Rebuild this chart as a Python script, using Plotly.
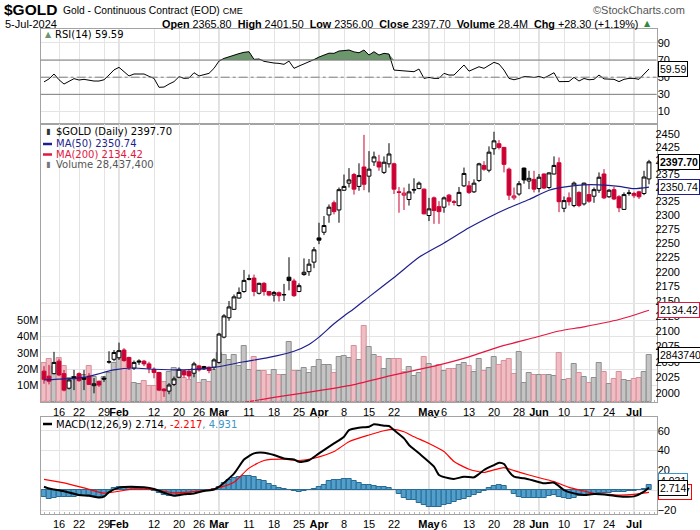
import numpy as np
import pandas as pd
import plotly.graph_objects as go

W, H = 700, 530

# ---------------- categories (trading days) ----------------
holidays = ["2024-01-15", "2024-02-19", "2024-03-29", "2024-05-27", "2024-06-19", "2024-07-04"]
dates = [d.strftime("%Y-%m-%d") for d in pd.bdate_range("2024-01-10", "2024-07-05")
         if d.strftime("%Y-%m-%d") not in holidays]

tick_dates = ["2024-01-16", "2024-01-22", "2024-01-29", "2024-02-01", "2024-02-12", "2024-02-20",
              "2024-02-26", "2024-03-01", "2024-03-11", "2024-03-18", "2024-03-25", "2024-04-01",
              "2024-04-08", "2024-04-15", "2024-04-22", "2024-05-01", "2024-05-06", "2024-05-13",
              "2024-05-20", "2024-05-28", "2024-06-03", "2024-06-10", "2024-06-17", "2024-06-24",
              "2024-07-01"]
tick_text = ["16", "22", "29", "Feb", "12", "20", "26", "Mar", "11", "18", "25", "Apr", "8", "15",
             "22", "May", "6", "13", "20", "28", "Jun", "10", "17", "24", "Jul"]
month_labels = ["Feb", "Mar", "Apr", "May", "Jun", "Jul"]

# ---------------- price data ----------------
open_ = [2035, 2027, 2031, 2051, 2031, 2008, 2026, 2031, 2025, 2027,
         2012, 2019, 2024, 2049.5, 2054, 2056.5, 2069, 2057, 2039.7, 2051.4,
         2051, 2046.6, 2038, 2032.8, 2006.6, 2003.4, 2014, 2025.3, 2035.4, 2034.4,
         2031.7, 2043.4, 2038.6, 2041.3, 2041.3, 2049, 2090, 2122, 2136, 2155,
         2166, 2188, 2189, 2163, 2180, 2166, 2160, 2164, 2161, 2190.5,
         2184, 2166, 2195, 2200, 2216.5, 2259, 2269, 2300, 2322, 2309,
         2345, 2358, 2374, 2352, 2388, 2371, 2397.6, 2397.6, 2378, 2394,
         2394, 2342, 2336, 2328, 2346.5, 2348, 2347, 2299, 2331, 2315,
         2314, 2336, 2324, 2317, 2353, 2353, 2342, 2363, 2391, 2382,
         2422.5, 2432, 2425, 2384, 2331, 2338, 2386, 2362, 2365, 2348,
         2375, 2350, 2375, 2396, 2312, 2331, 2317, 2341, 2320, 2337,
         2334, 2345, 2375, 2333, 2346, 2333, 2310, 2339, 2335, 2342,
         2339, 2365.8]
high = [2043, 2045, 2066, 2055, 2037, 2024, 2037, 2033, 2037, 2032,
        2024, 2020, 2027, 2067, 2069, 2081, 2072, 2058, 2052, 2054,
        2053, 2050, 2041, 2034, 2008, 2016, 2026.4, 2041, 2037, 2037,
        2050, 2045, 2043.4, 2042.4, 2055.7, 2097, 2128, 2150, 2161, 2173,
        2203, 2195, 2195, 2181, 2182, 2167, 2167, 2166, 2179, 2225,
        2188, 2180, 2223, 2222, 2243, 2286, 2298, 2319, 2326, 2350,
        2374, 2386, 2377, 2395, 2449, 2418, 2417, 2411, 2408, 2433,
        2396, 2351, 2350, 2357, 2367, 2361, 2348, 2331, 2333.5, 2325,
        2333.5, 2338, 2327, 2351, 2387, 2362, 2365, 2396, 2399, 2427,
        2455, 2439, 2426, 2387, 2350, 2362, 2387, 2381, 2381, 2375,
        2376, 2378, 2408, 2406, 2333.5, 2341, 2361, 2343, 2359, 2355,
        2350, 2378, 2384, 2347, 2351, 2336, 2341, 2346, 2342, 2344,
        2381, 2401.5]
low = [2015, 2014, 2030, 2027, 2003, 2006, 2005, 2018, 2005, 2013,
       2000, 2010, 2018, 2047, 2051, 2053, 2050, 2037, 2037, 2045,
       2043, 2031.7, 2023.7, 2003.4, 1994.4, 1998.6, 2011.4, 2023.7, 2025, 2022.6,
       2025.3, 2034.4, 2037, 2031.7, 2037, 2047, 2088, 2117, 2135, 2154,
       2164, 2185, 2158, 2161, 2159, 2158, 2149, 2149, 2150, 2168,
       2157, 2165, 2193, 2193, 2206, 2248, 2264, 2286, 2301, 2286,
       2344, 2350, 2337, 2344, 2345, 2341, 2390, 2381, 2375, 2387,
       2338, 2304, 2309, 2317, 2339, 2347, 2301, 2289, 2284, 2284,
       2304, 2317, 2317, 2315, 2351, 2338, 2340, 2360, 2381, 2378,
       2411, 2421, 2378, 2327, 2327, 2335, 2357, 2347, 2341, 2341,
       2347, 2347, 2374, 2305, 2305, 2317, 2314, 2314, 2317, 2322,
       2322, 2340, 2329, 2331, 2327, 2305, 2309, 2335, 2331, 2329,
       2336, 2356]
close = [2022, 2019, 2049, 2029, 2005, 2021, 2023, 2020, 2022, 2014,
         2015, 2013, 2022.5, 2050, 2065, 2068, 2052, 2041, 2049, 2049.8,
         2046.6, 2039.7, 2032.8, 2005, 2004, 2013, 2022.6, 2038, 2029, 2027.4,
         2046.6, 2037, 2042.4, 2036, 2053, 2095, 2125, 2140, 2157, 2164.5,
         2185, 2187, 2166, 2180, 2166, 2160, 2164.5, 2159, 2160.5, 2184.7,
         2159, 2176, 2199, 2213, 2238, 2255, 2281, 2314, 2306, 2346,
         2352, 2364, 2347, 2372, 2356, 2384, 2407, 2388, 2397, 2412.5,
         2347, 2341, 2339.6, 2342, 2345.5, 2358, 2302, 2311, 2308, 2306,
         2331, 2325, 2323, 2341, 2376, 2341, 2358, 2394, 2384, 2416,
         2437.5, 2425, 2393, 2336, 2334.5, 2357, 2364, 2367, 2347, 2369,
         2349, 2377, 2391, 2324, 2326, 2324, 2358, 2317, 2358, 2325,
         2346, 2369, 2331, 2345, 2329, 2313, 2337, 2340, 2339, 2333,
         2369.4, 2397.7]
volume_m = [24, 26, 21.5, 27, 22, 14.4, 15.4, 15.4, 16.5, 22,
            15, 12.4, 15.4, 17.5, 23.6, 30.7, 26.6, 19.5, 11.4, 10.8,
            12.8, 10, 10, 17.5, 12, 18, 20.5, 19, 14.4, 13.4,
            20, 11.4, 13.4, 12.4, 19.5, 29.7, 28.7, 25.6, 28.7, 22,
            34, 19.5, 27.2, 19, 19, 16.5, 19.5, 16.5, 16.5, 36.6,
            19, 19, 20.5, 17.5, 21.5, 25.6, 22.6, 22.3, 17.5, 27.2,
            28.2, 26.6, 34, 25.6, 46.3, 33.3, 28.7, 27.2, 20, 26.2,
            26, 26.2, 18, 21.1, 15.9, 17.5, 27.2, 23, 21.5, 22.6,
            19, 20, 20, 22.6, 24, 22, 18.5, 26.2, 19, 20.5,
            27.2, 22.6, 25, 26.2, 17, 30.7, 11.4, 17.5, 16.5, 16.5,
            16.5, 16.5, 16, 30, 13.4, 14, 23, 17.5, 15, 11.4,
            14.4, 24, 18, 11, 14, 18.5, 13.4, 13, 13.8, 14.4,
            18, 28.4374]

ma50_dates = ["2024-01-10", "2024-01-23", "2024-01-31", "2024-02-06", "2024-02-12", "2024-02-21",
              "2024-02-29", "2024-03-08", "2024-03-15", "2024-03-22", "2024-03-27", "2024-04-01",
              "2024-04-04", "2024-04-08", "2024-04-10", "2024-04-15", "2024-04-22", "2024-04-29",
              "2024-05-06", "2024-05-13", "2024-05-17", "2024-05-23", "2024-05-30", "2024-06-05",
              "2024-06-11", "2024-06-14", "2024-06-20", "2024-06-26", "2024-07-01", "2024-07-05"]
ma50_vals = [2021, 2025, 2037, 2040, 2038, 2037, 2041, 2050, 2057, 2067, 2078, 2090, 2112, 2125, 2137,
             2157, 2190, 2225, 2250, 2277, 2296, 2313, 2328, 2345, 2352, 2355, 2355, 2352, 2348, 2350.74]

ma200_dates = ["2024-03-06", "2024-03-14", "2024-03-20", "2024-03-28", "2024-04-09", "2024-04-22",
               "2024-05-02", "2024-05-13", "2024-05-21", "2024-05-31", "2024-06-07", "2024-06-14",
               "2024-06-26", "2024-07-05"]
ma200_vals = [1983, 1991, 1996, 2003, 2012, 2029, 2043, 2058, 2074, 2089, 2100, 2107, 2119, 2134.42]

# ---------------- indicators ----------------
rsi = [44.5, 48, 53.7, 47, 42, 45.5, 48.3, 46.7, 47.5, 46.5,
       45.5, 45.5, 47, 52.5, 58.5, 61.5, 56, 51.4, 53.7, 54,
       53.7, 51, 48.6, 38.2, 38.5, 42, 44.8, 50.6, 48.6, 49,
       55.2, 51.4, 52.5, 54.5, 60.3, 68.8, 71.9, 74, 76, 77.5,
       79, 79.7, 70.8, 71.2, 68.5, 67.3, 66.5, 66.1, 65, 68.8,
       60.3, 63, 65.3, 68, 70.5, 73.5, 75.8, 78, 77.8, 80.5,
       81, 81.7, 79.5, 78.5, 81.7, 75.8, 79.7, 75.8, 77.8, 77,
       58.3, 57.8, 57.6, 57, 56.4, 59.5, 48.6, 49.8, 48.6, 48.6,
       54.5, 52.5, 52.5, 58.3, 64.2, 57, 60, 62.2, 60.3, 63.5,
       67.3, 65.3, 58.3, 48.6, 47, 48.5, 50.6, 50.6, 49.5, 51,
       49, 52, 55.2, 44.8, 44.8, 45, 49.8, 45.5, 48.5, 47,
       47.5, 52.5, 48, 47.9, 47.5, 44.8, 47.5, 48.6, 48.6, 47.5,
       54, 59.59]
RSI_OB, RSI_MID, RSI_OS = 70, 50, 30

macd_hist = [-6.5, -8.5, -7.5, -7, -6.5, -7, -6.5, -6, -5.8, -5.2,
             -5.8, -7, -5.8, -2.5, 1.8, 3, 3.3, 3, 2.3, 2.3,
             2, 0.7, -0.7, -3.3, -5.2, -6.3, -6, -5, -4, -3,
             -1.7, -2, -0.3, 0.7, 1, 3.3, 7.4, 10.7, 12.4, 13.4,
             14.8, 14.8, 13, 10.7, 9, 6.7, 4.7, 2.3, 1.3, 0,
             -1, -2, -1, 0, 1.3, 3.3, 5.7, 9, 10.7, 10.7,
             11.7, 11.7, 9.7, 7.4, 5.7, 5.7, 4.7, 3.3, 3, 2.3,
             0, -3.7, -7.7, -9.4, -10, -12.8, -15.4, -16.8, -16.8, -16.8,
             -15, -13.8, -12, -10, -8.4, -6.7, -5, -2.7, -0.3, 2.3,
             4.7, 5, 4.7, 0.7, -3.7, -7, -7.7, -7.7, -7.7, -7.7,
             -7.7, -6, -4.4, -6.7, -7.7, -8.4, -7.7, -6, -5.4, -4.4,
             -3.4, -2.7, -2.7, -2.7, -2, -1.7, -1.7, -1, -1, 0,
             1.3, 4.931]

macd_dates = ["2024-01-10", "2024-01-11", "2024-01-12", "2024-01-17", "2024-01-22", "2024-01-24",
              "2024-01-26", "2024-01-29", "2024-01-30", "2024-02-01", "2024-02-02", "2024-02-08",
              "2024-02-12", "2024-02-14", "2024-02-16", "2024-02-21", "2024-02-23", "2024-02-27",
              "2024-02-29", "2024-03-01", "2024-03-06", "2024-03-08", "2024-03-11", "2024-03-12",
              "2024-03-14", "2024-03-18", "2024-03-20", "2024-03-22", "2024-03-25", "2024-03-27",
              "2024-04-01", "2024-04-04", "2024-04-08", "2024-04-09", "2024-04-11", "2024-04-15",
              "2024-04-16", "2024-04-18", "2024-04-19", "2024-04-22", "2024-04-24", "2024-04-25",
              "2024-04-29", "2024-05-02", "2024-05-03", "2024-05-07", "2024-05-08", "2024-05-10",
              "2024-05-14", "2024-05-15", "2024-05-16", "2024-05-20", "2024-05-21", "2024-05-22",
              "2024-05-23", "2024-05-24", "2024-05-29", "2024-05-31", "2024-06-04", "2024-06-06",
              "2024-06-10", "2024-06-12", "2024-06-14", "2024-06-18", "2024-06-21", "2024-06-25",
              "2024-06-27", "2024-07-01", "2024-07-03", "2024-07-05"]
macd_vals = [3.5, 1.7, 0.8, -1, -4.8, -5.6, -7.3, -6.5, -2, 2.6,
             3.3, 2.9, 1.3, -2.5, -5.6, -4.2, -3.2, -0.8, 0.8, 3.5,
             16.8, 31, 34.5, 37.2, 37.8, 35.5, 32, 31, 28.6, 30.3,
             37.2, 47.2, 54, 60.7, 63.1, 64.1, 66.5, 65.1, 64.8, 60.7,
             52.3, 45.7, 37.2, 23.8, 15.4, 12, 11.3, 13.7, 13, 16.4,
             20.4, 25.4, 27.8, 26.4, 18.7, 13.7, 12, 9.6, 7, 7.6,
             0.2, -3.2, -4.8, -3.8, -4.2, -5.5, -6.5, -6.2, -1.5, 2.714]

sig_dates = ["2024-01-10", "2024-01-17", "2024-01-23", "2024-01-29", "2024-02-06", "2024-02-12",
             "2024-02-16", "2024-02-26", "2024-02-29", "2024-03-06", "2024-03-11", "2024-03-14",
             "2024-03-20", "2024-03-25", "2024-03-28", "2024-04-04", "2024-04-09", "2024-04-15",
             "2024-04-18", "2024-04-22", "2024-04-24", "2024-04-26", "2024-05-01", "2024-05-06",
             "2024-05-08", "2024-05-13", "2024-05-16", "2024-05-20", "2024-05-22", "2024-05-24",
             "2024-05-30", "2024-06-04", "2024-06-06", "2024-06-11", "2024-06-14", "2024-06-18",
             "2024-06-24", "2024-06-26", "2024-07-01", "2024-07-05"]
sig_vals = [11, 7.4, 2.3, -3, 1.3, 0.7, -2.7, -1, 1.3, 8,
            22.3, 30, 31.3, 30, 32.3, 39, 49, 55.7, 60, 61.4,
            59, 54, 47.2, 39, 29, 21.2, 17.9, 20.5, 22.8, 19.8,
            15.4, 11.3, 8.7, 2.9, -0.8, -3.2, -4.2, -4.9, -4.2, -2.217]

N = len(dates)
for arr in (open_, high, low, close, volume_m, rsi, macd_hist):
    assert len(arr) == N, len(arr)
pos = {d: i for i, d in enumerate(dates)}
xi = list(range(N))


# ---------------- geometry helpers (window pixels -> paper) ----------------
def px_x(p):
    return p / W


def px_y(p):
    return 1 - p / H


X0, X1 = 40.7, 656.5
RSI_T, RSI_B = 29, 124
PR_T, PR_B = 124, 402
MC_T, MC_B = 417, 514
xdom = [px_x(X0), px_x(X1)]
xrng = [-0.66, N + 0.5]

FONT = "DejaVu Sans, Verdana, sans-serif"
AX = "Liberation Sans, Arial, sans-serif"
GRID = "#e4e4e4"
MONTH_GRID = "#c2c2c2"
BORDER = "#a3a3a3"
RED = "#cc0033"
NAVY = "#1f1f8c"
MA200C = "#e2173f"
HIST_FILL = "#519fcc"
HIST_LINE = "#2a6b93"

fig = go.Figure()

# ---------------- volume (base axis of price panel) ----------------
prev_close = [open_[0]] + close[:-1]
up = [close[i] >= prev_close[i] for i in range(N)]
fig.add_trace(go.Bar(
    x=xi, y=[v * 1e6 for v in volume_m], width=0.92,
    marker=dict(color=["#c4c4c4" if u else "#efbdc3" for u in up],
                line=dict(color=["#8e8e8e" if u else "#d98f99" for u in up], width=1)),
    xaxis="x2", yaxis="y2", hoverinfo="skip"))

# ---------------- moving averages ----------------
fig.add_trace(go.Scatter(x=[pos[d] for d in ma200_dates], y=ma200_vals, mode="lines",
                         line=dict(color=MA200C, width=1.2, shape="spline", smoothing=0.6),
                         xaxis="x2", yaxis="y3", hoverinfo="skip"))
fig.add_trace(go.Scatter(x=[pos[d] for d in ma50_dates], y=ma50_vals, mode="lines",
                         line=dict(color=NAVY, width=1.2, shape="spline", smoothing=0.6),
                         xaxis="x2", yaxis="y3", hoverinfo="skip"))

# ---------------- candles ----------------
styles = {
    "hollow_black": ("black", "white"),
    "filled_black": ("black", "black"),
    "hollow_red": (RED, "white"),
    "filled_red": (RED, RED),
}


def kind(i):
    hollow = close[i] >= open_[i]
    upc = close[i] >= prev_close[i]
    if upc:
        return "hollow_black" if hollow else "filled_black"
    return "hollow_red" if hollow else "filled_red"


for name, (lc, fc) in styles.items():
    idx = [i for i in range(N) if kind(i) == name]
    if not idx:
        continue
    st = dict(line=dict(color=lc, width=1), fillcolor=fc)
    fig.add_trace(go.Candlestick(
        x=idx, open=[open_[i] for i in idx], high=[high[i] for i in idx],
        low=[low[i] for i in idx], close=[close[i] for i in idx],
        increasing=st, decreasing=st, whiskerwidth=0,
        xaxis="x2", yaxis="y3", hoverinfo="skip"))

# ---------------- RSI ----------------
fig.add_trace(go.Scatter(x=xi, y=[RSI_OB] * N, mode="lines", line=dict(width=0),
                         xaxis="x", yaxis="y", hoverinfo="skip"))
fig.add_trace(go.Scatter(x=xi, y=[max(v, RSI_OB) for v in rsi], mode="lines", line=dict(width=0),
                         fill="tonexty", fillcolor="#6c976c", xaxis="x", yaxis="y", hoverinfo="skip"))
fig.add_trace(go.Scatter(x=xi, y=rsi, mode="lines", line=dict(color="black", width=1),
                         xaxis="x", yaxis="y", hoverinfo="skip"))

# ---------------- MACD ----------------
fig.add_trace(go.Bar(x=xi, y=macd_hist, width=0.95,
                     marker=dict(color=HIST_FILL, line=dict(color=HIST_LINE, width=1)),
                     xaxis="x3", yaxis="y4", hoverinfo="skip"))
fig.add_trace(go.Scatter(x=[pos[d] for d in sig_dates], y=sig_vals, mode="lines",
                         line=dict(color="#ff0000", width=1.2, shape="spline", smoothing=0.6),
                         xaxis="x3", yaxis="y4", hoverinfo="skip"))
fig.add_trace(go.Scatter(x=[pos[d] for d in macd_dates], y=macd_vals, mode="lines",
                         line=dict(color="black", width=2, shape="spline", smoothing=0.6),
                         xaxis="x3", yaxis="y4", hoverinfo="skip"))

# ---------------- axes ----------------
tick_pos = [pos[d] for d in tick_dates]
tick_lbl = [f"<b>{t}</b>" if t in month_labels else t for t in tick_text]
month_pos = [tick_pos[k] for k, t in enumerate(tick_text) if t in month_labels]

TICKFONT = dict(family=AX, size=11, color="black")
xbase = dict(domain=xdom, range=xrng, tickmode="array", tickvals=tick_pos, ticktext=tick_lbl,
             showgrid=True, gridcolor=GRID, gridwidth=1, zeroline=False, showline=True,
             mirror=True, linecolor=BORDER, ticks="", ticklen=0, tickangle=0, tickfont=TICKFONT,
             automargin=False)
minor = dict(ticks="inside", ticklen=2, tickcolor="#b5b5b5", tick0=0, dtick=1, showgrid=False)
ybase = dict(zeroline=False, showline=True, mirror=True, linecolor=BORDER, ticks="", ticklen=0,
             tickfont=TICKFONT, gridcolor=GRID, automargin=False)

p_lo, p_hi = np.log10(1986.4), np.log10(2469.9)
vol_top = (PR_B - PR_T) / 1.64 * 1e6
macd_lo, macd_hi = -24.0, 73.9

fig.update_layout(
    width=W, height=H, margin=dict(l=0, r=0, t=0, b=0, pad=0, autoexpand=False),
    paper_bgcolor="white", plot_bgcolor="white", showlegend=False, hovermode=False,
    boxgap=0.15, boxgroupgap=0.1, bargap=0,
    xaxis=dict(**xbase, anchor="y", showticklabels=False),
    xaxis2=dict(**xbase, anchor="y2", showticklabels=True, rangeslider=dict(visible=False),
                minor=minor),
    xaxis3=dict(**xbase, anchor="y4", showticklabels=True, minor=minor),
    yaxis=dict(**ybase, domain=[px_y(RSI_B), px_y(RSI_T)], range=[-4.6, 106.2], side="right",
               anchor="x", tickvals=[10, 30, 50, 70, 90], showgrid=True, ticklabelstandoff=-2),
    yaxis2=dict(**ybase, domain=[px_y(PR_B), px_y(PR_T)], range=[0, vol_top], side="left",
                anchor="x2", tickvals=[1e7, 2e7, 3e7, 4e7, 5e7, 6e7],
                ticktext=["10M", "20M", "30M", "40M", "50M", ""], showgrid=True,
                ticklabelstandoff=-1),
    yaxis3=dict(zeroline=False, showline=False, ticks="", ticklen=0, type="log", range=[p_lo, p_hi],
                overlaying="y2", side="right", anchor="x2", showgrid=False, automargin=False,
                tickvals=list(range(2000, 2451, 25)), ticktext=[str(v) for v in range(2000, 2451, 25)],
                tickfont=TICKFONT, ticklabelstandoff=-2),
    yaxis4=dict(**ybase, domain=[px_y(MC_B), px_y(MC_T)], range=[macd_lo, macd_hi], side="right",
                anchor="x3", tickvals=[-20, 0, 20, 40, 60], showgrid=True, ticklabelstandoff=-2),
)

shapes = []
for lvl in range(2150, 2451, 25):
    shapes.append(dict(type="line", xref="x2 domain", x0=0, x1=1, yref="y3",
                       y0=np.log10(lvl), y1=np.log10(lvl), line=dict(color=GRID, width=1),
                       layer="below"))
for xa, ya in (("x", "y"), ("x2", "y2"), ("x3", "y4")):
    for mp in month_pos:
        shapes.append(dict(type="line", xref=xa, x0=mp, x1=mp, yref=f"{ya} domain", y0=0, y1=1,
                           line=dict(color=MONTH_GRID, width=1), layer="below"))
for lvl, dash in ((RSI_OB, "solid"), (RSI_OS, "solid"), (RSI_MID, "dashdot")):
    shapes.append(dict(type="line", xref="x domain", x0=0, x1=1, yref="y", y0=lvl, y1=lvl,
                       line=dict(color="#7d7d7d", width=1, dash=dash)))
shapes.append(dict(type="line", xref="paper", yref="paper", x0=px_x(43), x1=px_x(52),
                   y0=px_y(144), y1=px_y(144), line=dict(color=NAVY, width=2.5)))
shapes.append(dict(type="line", xref="paper", yref="paper", x0=px_x(43), x1=px_x(52),
                   y0=px_y(154.5), y1=px_y(154.5), line=dict(color=MA200C, width=2.5)))
shapes.append(dict(type="line", xref="paper", yref="paper", x0=px_x(43), x1=px_x(52),
                   y0=px_y(424), y1=px_y(424), line=dict(color="black", width=2.5)))
fig.update_layout(shapes=shapes)

# ---------------- annotations ----------------
ann = []


def txt(x, y, text, size=10, color="black", family=FONT, xanchor="left", yanchor="middle"):
    ann.append(dict(x=px_x(x), y=px_y(y), xref="paper", yref="paper", text=text, showarrow=False,
                    xanchor=xanchor, yanchor=yanchor, font=dict(family=family, size=size, color=color)))


chg = close[-1] - close[-2]
chg_pct = chg / close[-2] * 100
vol_last = volume_m[-1] * 1e6

txt(2, 10, "<b>$GOLD</b>", size=15.5, family=AX)
txt(61, 10.5, "Gold - Continuous Contract (EOD) <span style='font-size:9px'>CME</span>", size=10.3, family=AX)
txt(687, 10, "©StockCharts.com", size=11, color="#555555", family=AX, xanchor="right")
txt(3, 24, "5-Jul-2024", size=11, family=AX)
txt(640, 24, (f"<b>Open</b> {open_[-1]:.2f}  <b>High</b> {high[-1]:.2f}  <b>Low</b> {low[-1]:.2f}  "
              f"<b>Close</b> {close[-1]:.2f}  <b>Volume</b> {vol_last / 1e6:.1f}M  "
              f"<b>Chg</b> {chg:+.2f} ({chg_pct:+.2f}%)"), size=10.8, family=AX, xanchor="right")
txt(642, 24, "▲", size=8, color="#2e8b3a")

txt(43, 35, "▲", size=8, color="#6c976c")
txt(53, 35, f"RSI(14) {rsi[-1]:.2f}", size=10)

txt(44, 132, "▮", size=8, color="#333333")
txt(54, 132, f"$GOLD (Daily) {close[-1]:.2f}", size=10)
txt(54, 144, f"MA(50) {ma50_vals[-1]:.2f}", size=10, color=NAVY)
txt(54, 154.5, f"MA(200) {ma200_vals[-1]:.2f}", size=10, color=MA200C)
txt(44, 164.5, "▮", size=8, color="#777777")
txt(54, 164.5, f"Volume {int(round(vol_last)):,}", size=10, color="#555555")

txt(54, 424, (f"MACD(12,26,9) {macd_vals[-1]:.3f}<span style='color:#ff0000'>, {sig_vals[-1]:.3f}</span>"
              f"<span style='color:#3a95c8'>, {macd_hist[-1]:.3f}</span>"), size=10)


def box(yref, y, text, border, size=10.5, bold=False):
    ann.append(dict(x=px_x(658), xref="paper", y=y, yref=yref, xanchor="left", yanchor="middle",
                    text=f"<b>{text}</b>" if bold else text, showarrow=False, bgcolor="white",
                    bordercolor=border, borderwidth=1, borderpad=1,
                    font=dict(family=AX, size=size, color="black")))


box("y", rsi[-1], f"{rsi[-1]:.2f}", "black")
box("y3", np.log10(close[-1]), f"{close[-1]:.2f}", "black", bold=True)
box("y3", np.log10(ma50_vals[-1]), f"{ma50_vals[-1]:.2f}", NAVY)
box("y3", np.log10(ma200_vals[-1]), f"{ma200_vals[-1]:.2f}", MA200C)
box("y2", vol_last, f"{int(round(vol_last))}"[:7], "black")
box("y4", 9.3, f"{macd_hist[-1]:.3f}", "#3a95c8")
box("y4", -2.0, f"{sig_vals[-1]:.3f}", "#ff0000")
box("y4", macd_vals[-1], f"{macd_vals[-1]:.3f}", "black")

fig.update_layout(annotations=ann)
# the page's default 8px body margin would shift the 700x530 figure inside the window
fig.write_html("out.html", config={"displayModeBar": False},
               post_script="document.body.style.margin='0px';document.body.style.overflow='hidden';")
